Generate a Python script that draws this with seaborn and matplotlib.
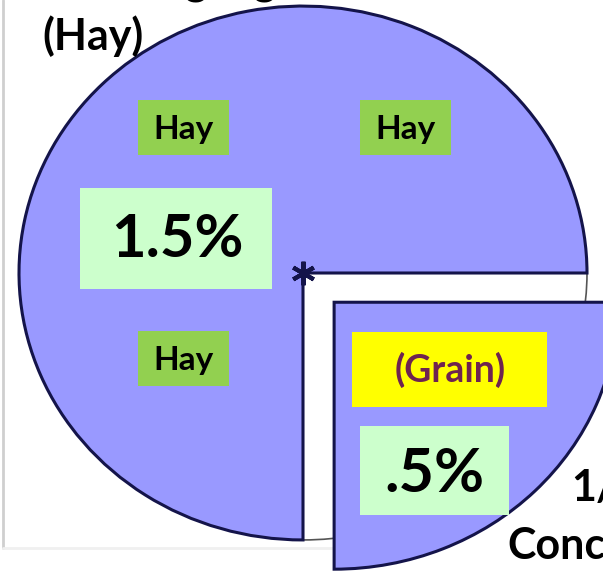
import numpy as np
import seaborn as sns
import matplotlib.pyplot as plt
from matplotlib.patches import Arc, Rectangle

# daily feed as % of body weight
feeds = ['Hay', 'Grain']
shares = [0.75, 0.25]
explode = [0.0, 44.0]   # pie() takes this in data units when radius != 1
hay_boxes = ['Hay', 'Hay', 'Hay']

sns.set_style('white')
plt.rcParams['font.family'] = ['Lato', 'DejaVu Sans']

W, H = 603, 572
s = 283 / 266  # the pie is a bit squashed vertically


def px(x, y):
    # picture pixels -> data coords
    return x, (H - y) * s


fig = plt.figure(figsize=(6.03, 5.72), dpi=100)
ax = fig.add_axes([0, 0, 1, 1])

cx, cy = px(303, 273)
R = 284

# outline of the missing quarter
ax.add_patch(Arc((cx, cy), 2 * R, 2 * R, theta1=270, theta2=360,
                 color='#555555', lw=1.2, zorder=1))

wedges, _ = ax.pie(shares, explode=explode, startangle=0, counterclock=True,
                   center=(cx, cy), radius=R, colors=['#9999FF', '#9999FF'],
                   wedgeprops=dict(edgecolor='#14144a', linewidth=2.2))
for w in wedges:
    w.set_zorder(2)

ax.plot([cx], [cy], marker=(6, 2, 0), ms=17, mew=3, color='#14144a', zorder=3)

# faint frame at left / bottom
ax.plot(*zip(px(3, 0), px(3, 548)), color='#cfcfcf', lw=2, zorder=0)
ax.plot(*zip(px(3, 548), px(335, 548)), color='#f0f0f0', lw=2, zorder=0)


def box(x0, y0, x1, y1, color):
    a = px(x0, y1)
    ax.add_patch(Rectangle(a, x1 - x0, (y1 - y0) * s, facecolor=color,
                           edgecolor='none', zorder=4))


def label(x, y, txt, size, color='black', ha='center', va='center'):
    xx, yy = px(x, y)
    ax.text(xx, yy, txt, fontsize=size, fontweight='bold', color=color,
            ha=ha, va=va, zorder=5)


hay_pos = [(138, 100, 229, 155), (360, 100, 451, 155), (138, 331, 229, 386)]
for (x0, y0, x1, y1), t in zip(hay_pos, hay_boxes):
    box(x0, y0, x1, y1, '#92D050')
    label((x0 + x1) / 2, (y0 + y1) / 2 + 2, t, 24)

box(80, 188, 272, 289, '#CCFFCC')
label(177, 240, '1.5%', 43)

box(352, 332, 547, 407, '#FFFF00')
label(450, 370, '(Grain)', 27, color='#6E2350')

box(360, 426, 509, 515, '#CCFFCC')
label(434, 474, '.5%', 44)

label(93, 36, '(Hay)', 31)
label(28, -6, '3/4 Roughage', 31, ha='left', va='baseline')
label(571, 488, '1/4', 31, ha='left')
label(507, 546, 'Concentrate', 31, ha='left')

ax.set_aspect('auto')
ax.set_xlim(0, W)
ax.set_ylim(0, H * s)
ax.axis('off')

fig.savefig('out.png', dpi=100)
